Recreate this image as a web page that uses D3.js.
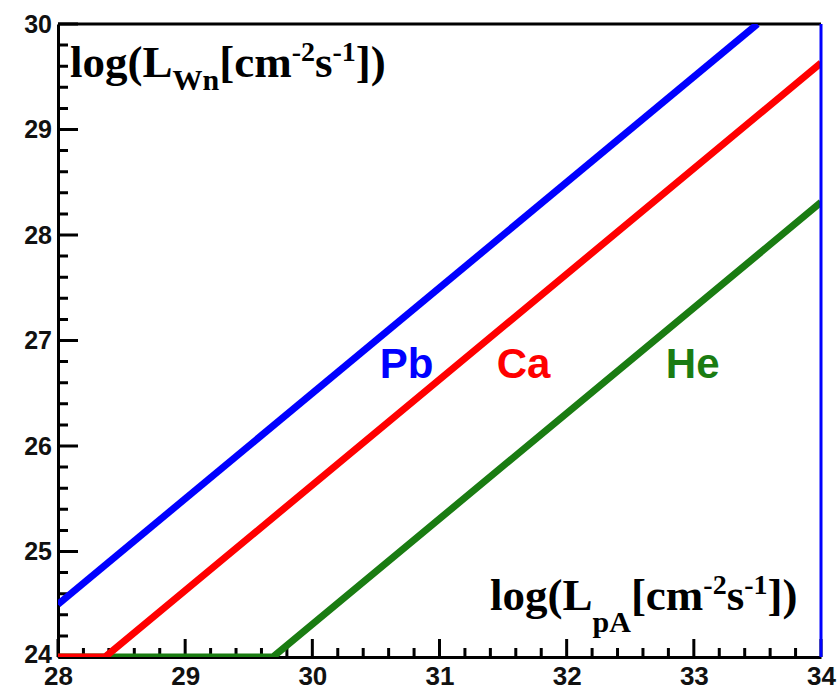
<!DOCTYPE html>
<html>
<head>
<meta charset="utf-8">
<script src="https://cdn.jsdelivr.net/npm/d3@7"></script>
<style>
  body { margin: 0; background: #fff; }
</style>
</head>
<body>
<script>
const width = 840, height = 690;

// data
const pbX = [28, 33.5], pbY = [24.5, 30];
const caX = [28, 28.37, 34], caY = [24, 24, 29.63];
const heX = [28, 29.69, 34], heY = [24, 24, 28.31];
const xTicks = [28, 29, 30, 31, 32, 33, 34];
const yTicks = [24, 25, 26, 27, 28, 29, 30];
const labelNames = ["Pb", "Ca", "He"];
const labelX = [30.53, 31.45, 32.78];
const labelY = [26.64, 26.64, 26.64];
const colors = ["#0000ff", "#ff0000", "#1a7c12"];

const plotL = 58, plotR = 821, plotT = 24, plotB = 657;

const x = d3.scaleLinear().domain([28, 34]).range([plotL, plotR]);
const y = d3.scaleLinear().domain([24, 30]).range([plotB, plotT]);

const svg = d3.select("body").append("svg")
    .attr("width", width)
    .attr("height", height);

svg.append("defs").append("clipPath").attr("id", "plotClip")
  .append("rect")
    .attr("x", plotL).attr("y", plotT)
    .attr("width", plotR - plotL).attr("height", plotB - plotT);

// minor ticks every 0.2
const xMinor = d3.range(28, 34.001, 0.2).filter(v => Math.abs(v - Math.round(v)) > 1e-6);
const yMinor = d3.range(24, 30.001, 0.2).filter(v => Math.abs(v - Math.round(v)) > 1e-6);

// axes: labels + domain from d3-axis, inward tick marks drawn separately
const xAxis = svg.append("g")
    .attr("transform", `translate(0,${plotB})`)
    .call(d3.axisBottom(x).tickValues(xTicks).tickSizeInner(0).tickSizeOuter(0)
        .tickPadding(10).tickFormat(d3.format("d")));
const yAxis = svg.append("g")
    .attr("transform", `translate(${plotL},0)`)
    .call(d3.axisLeft(y).tickValues(yTicks).tickSizeInner(0).tickSizeOuter(0)
        .tickPadding(6).tickFormat(d3.format("d")));

xAxis.selectAll(".tick text")
    .attr("font-family", "Liberation Sans, Arial, sans-serif")
    .attr("font-weight", "bold")
    .attr("font-size", 26)
    .attr("fill", "#111");
yAxis.selectAll(".tick text")
    .attr("font-family", "Liberation Sans, Arial, sans-serif")
    .attr("font-weight", "bold")
    .attr("font-size", 25)
    .attr("fill", "#111")
    .attr("dy", (d, i) => i === 0 ? "0.22em" : "0.32em");

const tickData = xTicks.map(v => ({ ax: "x", v, len: 18 }))
    .concat(xMinor.map(v => ({ ax: "x", v, len: 9 })))
    .concat(yTicks.map(v => ({ ax: "y", v, len: 20 })))
    .concat(yMinor.map(v => ({ ax: "y", v, len: 10 })));

svg.append("path")
    .attr("d", tickData.map(d => d.ax === "x"
        ? `M${x(d.v)},${plotB}V${plotB - d.len}`
        : `M${plotL},${y(d.v)}H${plotL + d.len}`).join(""))
    .attr("fill", "none")
    .attr("stroke", "#000")
    .attr("stroke-width", 3);

[xAxis, yAxis].forEach(g => g.select(".domain").attr("stroke", "#000").attr("stroke-width", 3));

// frame: top black
svg.append("line")
    .attr("x1", plotL).attr("x2", plotR)
    .attr("y1", plotT).attr("y2", plotT)
    .attr("stroke", "#000").attr("stroke-width", 3);

// curves
const series = [
    { xs: pbX, ys: pbY, color: colors[0] },
    { xs: heX, ys: heY, color: colors[2] },
    { xs: caX, ys: caY, color: colors[1] }
];

const line = d3.line().x(d => x(d[0])).y(d => y(d[1]));

svg.append("g").attr("clip-path", "url(#plotClip)")
  .selectAll("path")
  .data(series)
  .enter()
  .append("path")
    .attr("d", s => line(s.xs.map((v, i) => [v, s.ys[i]])))
    .attr("fill", "none")
    .attr("stroke", s => s.color)
    .attr("stroke-width", 7)
    .attr("stroke-linejoin", "round");

// frame: right edge in blue
svg.append("line")
    .attr("x1", plotR).attr("x2", plotR)
    .attr("y1", plotT).attr("y2", plotB)
    .attr("stroke", "#0000ff").attr("stroke-width", 3);

// series labels
svg.selectAll(".lbl")
  .data(labelNames)
  .enter()
  .append("text")
    .attr("class", "lbl")
    .attr("x", (d, i) => x(labelX[i]))
    .attr("y", (d, i) => y(labelY[i]))
    .attr("font-family", "Liberation Sans, Arial, sans-serif")
    .attr("font-weight", "bold")
    .attr("font-size", 42)
    .attr("fill", (d, i) => colors[i])
    .text(d => d);

// axis titles with sub/superscripts
function title(xPos, yPos, sub, subDrop) {
    const t = svg.append("text")
        .attr("x", xPos).attr("y", yPos)
        .attr("font-family", "Liberation Serif, Times New Roman, serif")
        .attr("font-weight", "bold")
        .attr("font-size", 45)
        .attr("fill", "#000");
    t.append("tspan").text("log(L");
    t.append("tspan").attr("font-size", 30).attr("dy", subDrop).text(sub);
    t.append("tspan").attr("dy", -subDrop).text("[cm");
    t.append("tspan").attr("font-size", 28).attr("dy", -16).text("-2");
    t.append("tspan").attr("dy", 16).text("s");
    t.append("tspan").attr("font-size", 28).attr("dy", -16).text("-1");
    t.append("tspan").attr("dy", 16).text("])");
}

title(70, 77, "Wn", 13);
title(490, 610, "pA", 22);
</script>
</body>
</html>
